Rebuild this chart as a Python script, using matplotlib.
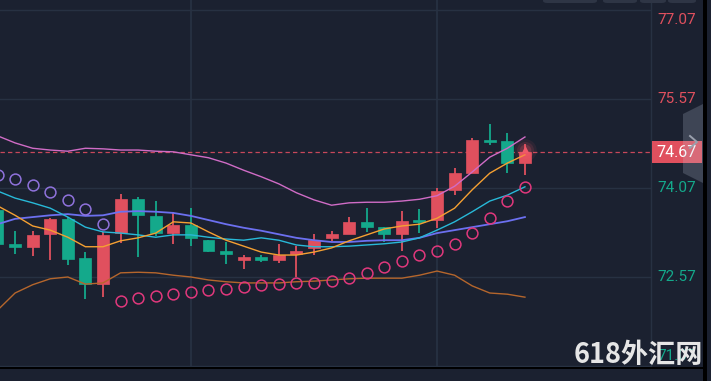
import matplotlib
matplotlib.use("Agg")
import matplotlib.pyplot as plt
import numpy as np
from matplotlib.patches import Rectangle, Polygon, FancyBboxPatch
from matplotlib.lines import Line2D

# ---------------- data ----------------
opens  = [73.70, 73.13, 73.08, 73.29, 73.55, 72.89, 72.45, 73.31, 73.88, 73.60,
          73.31, 73.45, 73.19, 73.01, 72.86, 72.91, 72.86, 72.96, 73.06, 73.23,
          73.29, 73.50, 73.41, 73.29, 73.52, 73.53, 74.04, 74.32, 74.88, 74.86, 74.49]
highs  = [73.78, 73.35, 73.35, 73.56, 73.58, 72.99, 73.33, 73.97, 73.92, 73.85,
          73.67, 73.73, 73.20, 73.16, 72.94, 72.94, 73.13, 73.09, 73.29, 73.35,
          73.58, 73.73, 73.41, 73.68, 73.72, 74.07, 74.41, 74.91, 75.15, 75.00, 74.81]
lows   = [73.06, 72.96, 72.92, 72.86, 72.77, 72.20, 72.23, 73.14, 72.91, 73.26,
          73.13, 73.09, 72.99, 72.79, 72.70, 72.82, 72.81, 72.57, 72.94, 73.18,
          73.29, 73.33, 73.16, 73.01, 73.31, 73.40, 73.95, 74.32, 74.79, 74.32, 74.29]
closes = [73.13, 73.08, 73.28, 73.55, 72.87, 72.45, 73.28, 73.88, 73.61, 73.31,
          73.45, 73.23, 73.01, 72.96, 72.91, 72.86, 72.94, 73.01, 73.19, 73.29,
          73.50, 73.41, 73.29, 73.51, 73.50, 74.02, 74.32, 74.88, 74.85, 74.49, 74.67]

boll_upper = [74.95, 74.83, 74.74, 74.71, 74.69, 74.74, 74.73, 74.71, 74.71, 74.69,
              74.68, 74.63, 74.58, 74.49, 74.37, 74.26, 74.14, 73.99, 73.87, 73.78,
              73.82, 73.83, 73.83, 73.85, 73.88, 73.94, 74.10, 74.34, 74.59, 74.74, 74.93]
boll_lower = [72.01, 72.30, 72.44, 72.54, 72.57, 72.45, 72.47, 72.64, 72.65, 72.64,
              72.60, 72.57, 72.52, 72.49, 72.47, 72.47, 72.47, 72.49, 72.50, 72.52,
              72.54, 72.55, 72.55, 72.55, 72.60, 72.67, 72.60, 72.42, 72.30, 72.28, 72.23]
ma_slow = [73.46, 73.55, 73.58, 73.61, 73.63, 73.60, 73.61, 73.67, 73.68, 73.67,
           73.65, 73.60, 73.53, 73.46, 73.40, 73.35, 73.29, 73.23, 73.19, 73.16,
           73.16, 73.18, 73.19, 73.19, 73.23, 73.31, 73.36, 73.41, 73.46, 73.51, 73.58]
ma_mid = [74.02, 73.90, 73.82, 73.73, 73.58, 73.41, 73.33, 73.31, 73.28, 73.24,
          73.28, 73.28, 73.24, 73.21, 73.19, 73.23, 73.19, 73.11, 73.08, 73.08,
          73.09, 73.11, 73.13, 73.16, 73.23, 73.36, 73.50, 73.67, 73.85, 73.95, 74.09]
ma_fast = [73.77, 73.61, 73.43, 73.36, 73.24, 73.08, 73.08, 73.18, 73.23, 73.31,
           73.50, 73.48, 73.33, 73.19, 73.09, 72.99, 72.94, 72.94, 72.99, 73.06,
           73.18, 73.28, 73.38, 73.43, 73.46, 73.56, 73.73, 74.04, 74.32, 74.49, 74.63]
sar = [74.29, 74.22, 74.12, 74.00, 73.87, 73.72, 73.46, 72.17, 72.22, 72.25,
       72.28, 72.32, 72.35, 72.37, 72.40, 72.44, 72.45, 72.47, 72.47, 72.50,
       72.55, 72.64, 72.74, 72.84, 72.94, 73.01, 73.13, 73.31, 73.56, 73.85, 74.09]

price_levels = [77.07, 75.57, 74.07, 72.57, 71.07]
price_labels = ["77.07", "75.57", "74.07", "72.57", "71.07"]
last_price = 74.67
last_label = "74.67"
watermark = "618外汇网"

# ---------------- style ----------------
BG = "#1b2130"
GRID = "#273142"
UP = "#e0505e"
DOWN = "#14a98b"

W, H = 711, 381
fig = plt.figure(figsize=(W / 100, H / 100), dpi=100)
fig.patch.set_facecolor(BG)
ax = fig.add_axes([0, 13 / H, 651 / W, 368 / H])
ax.set_facecolor(BG)

n = len(opens)
x = np.arange(n)
ax.set_xlim(0.142, 37.17)
ax.set_ylim(71.036, 77.239)

for s in ax.spines.values():
    s.set_visible(False)
ax.spines["right"].set_visible(True)
ax.spines["right"].set_color(GRID)
ax.spines["right"].set_linewidth(1)
ax.set_xticks([])
ax.set_yticks([])

for lv in price_levels:
    ax.axhline(lv, color=GRID, lw=1.0, zorder=0)
for gx in [11, 25]:
    ax.axvline(gx, color=GRID, lw=1.3, zorder=0)

# candles
o = np.array(opens); c = np.array(closes); hi = np.array(highs); lo = np.array(lows)
up = c >= o
colors = np.where(up, UP, DOWN)
ax.vlines(x, lo, hi, colors=colors, lw=1.3, zorder=2)
bottoms = np.minimum(o, c)
heights = np.maximum(np.abs(c - o), 0.03)
ax.bar(x, heights, bottom=bottoms, width=0.68, color=colors, edgecolor=colors,
       linewidth=0.5, zorder=3)

# indicator lines
lw = 1.0
ax.plot(x, boll_upper, color="#d06cc6", lw=lw, zorder=4)
ax.plot(x, boll_lower, color="#b5662c", lw=lw, zorder=4)
ax.plot(x, ma_slow, color="#6c70f0", lw=1.3, zorder=4)
ax.plot(x, ma_mid, color="#28b9d8", lw=lw, zorder=4)
ax.plot(x, ma_fast, color="#f5a032", lw=lw, zorder=4)

# SAR
sar_a = np.array(sar)
above = sar_a > hi
ax.plot(x[above], sar_a[above], ls="none", marker="o", ms=7.8, mfc="none",
        mec="#8f72dc", mew=1.1, zorder=5)
ax.plot(x[~above], sar_a[~above], ls="none", marker="o", ms=7.8, mfc="none",
        mec="#e0387c", mew=1.1, zorder=5)

# last price dashed line
ax.axhline(last_price, color="#c8485a", lw=0.9, ls=(0, (3.5, 2.5)), zorder=1)

# glow on last candle
for s_, a_ in [(260, 0.08), (150, 0.12), (70, 0.2)]:
    ax.scatter([x[-1]], [highs[-1] - 0.1], s=s_, color="#ff5a6a", alpha=a_,
               lw=0, zorder=6)
ax.scatter([x[-1]], [highs[-1] - 0.08], s=28, marker="^", color="#f05868",
           lw=0, zorder=7)

# right axis labels (top and bottom labels are pushed inside the pane)
label_y = list(price_levels)
label_y[0] = price_levels[0] - 0.17
label_y[-1] = price_levels[-1] + 0.17
for lv, yv, lab in zip(price_levels, label_y, price_labels):
    col = UP if lv > last_price else DOWN
    ax.text(1.0 + 6 / 651, yv, lab, transform=ax.get_yaxis_transform(),
            ha="left", va="center", color=col, fontsize=11, family="Roboto",
            clip_on=False)

# figure-pixel helper
def fx(px):
    return px / W

def fy(py):
    return 1 - py / H

# price box
fig.patches.append(Rectangle((fx(652), fy(163)), fx(702) - fx(652), fy(141) - fy(163),
                             transform=fig.transFigure, facecolor="#e0505e",
                             edgecolor="none", zorder=5))
fig.text(fx(677), fy(152.5), last_label, ha="center", va="center", color="white",
         fontsize=11.5, family="Roboto", zorder=6)
# translucent side panel
fig.patches.append(Polygon([(fx(683), fy(114)), (fx(703), fy(104)), (fx(703), fy(183)),
                            (fx(683), fy(173))], closed=True, transform=fig.transFigure,
                           facecolor=(0.75, 0.78, 0.85, 0.22), edgecolor="none", zorder=7))
fig.lines.append(Line2D([fx(690), fx(697), fx(690)], [fy(136), fy(142), fy(148)],
                        transform=fig.transFigure, color="#9aa0ad", lw=1.4, zorder=8))

# top buttons
for x0, x1 in [(543, 597), (603, 637), (640, 666), (668, 696)]:
    fig.patches.append(FancyBboxPatch((fx(x0), fy(3)), fx(x1) - fx(x0), fy(-6) - fy(3),
                                      boxstyle="round,pad=0,rounding_size=0.006",
                                      transform=fig.transFigure, facecolor="#2e3545",
                                      edgecolor="none", zorder=5))

# bottom black line and right black strip
fig.lines.append(Line2D([0, fx(703)], [fy(368), fy(368)], transform=fig.transFigure,
                        color="black", lw=1.4, zorder=5))
fig.patches.append(Rectangle((fx(703), 0), fx(707) - fx(703), 1, transform=fig.transFigure,
                             facecolor="black", edgecolor="none", zorder=5))

# watermark
fig.text(fx(703), fy(369), watermark, ha="right", va="bottom", color="#e6e6e6",
         fontsize=19.5, fontweight="bold", family=["Noto Sans CJK SC", "DejaVu Sans"],
         zorder=9)

fig.savefig("out.png", dpi=100, facecolor=BG)
